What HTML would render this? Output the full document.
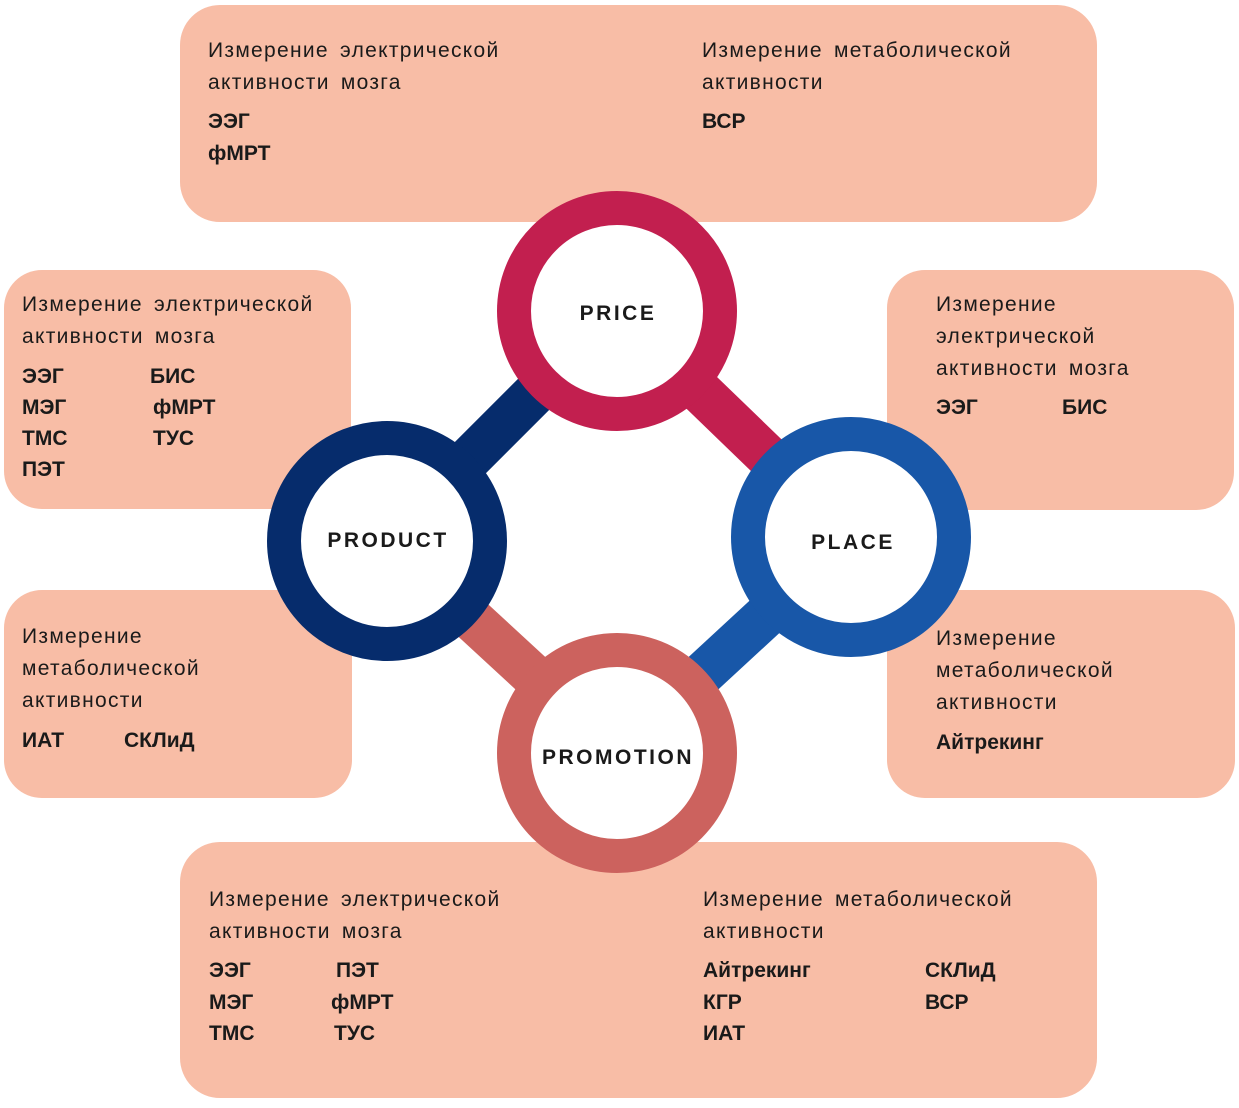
<!DOCTYPE html>
<html><head><meta charset="utf-8"><style>
html,body{margin:0;padding:0;background:#fff}
svg text{font-family:"Liberation Sans","DejaVu Sans",sans-serif;fill:#1a1a1a}
.n{font-size:21px;word-spacing:4px;letter-spacing:1.3px}
.b{font-size:21px;font-weight:bold}
.c{font-size:21px;font-weight:bold;letter-spacing:2.5px}
</style></head><body>
<svg width="1239" height="1103" viewBox="0 0 1239 1103" xmlns="http://www.w3.org/2000/svg">
<g fill="#F8BDA6">
<rect x="180" y="5" width="917" height="217" rx="40"/>
<rect x="4" y="270" width="347" height="239" rx="38"/>
<rect x="4" y="590" width="348" height="208" rx="38"/>
<rect x="887" y="270" width="347" height="240" rx="38"/>
<rect x="887" y="590" width="348" height="208" rx="38"/>
<rect x="180" y="842" width="917" height="256" rx="40"/>
</g>
<g stroke-width="44">
<line x1="387" y1="541" x2="617" y2="311" stroke="#062C6C"/>
<line x1="617" y1="311" x2="851" y2="537" stroke="#C21F4F"/>
<line x1="851" y1="537" x2="617" y2="753" stroke="#1857A8"/>
<line x1="387" y1="541" x2="617" y2="753" stroke="#CC625E"/>
</g>
<g fill="#fff" stroke-width="34">
<circle cx="617" cy="311" r="103" stroke="#C21F4F"/>
<circle cx="387" cy="541" r="103" stroke="#062C6C"/>
<circle cx="851" cy="537" r="103" stroke="#1857A8"/>
<circle cx="617" cy="753" r="103" stroke="#CC625E"/>
</g>
<g text-anchor="middle" class="c">
<text x="618" y="320" class="c">PRICE</text>
<text x="388" y="547" class="c">PRODUCT</text>
<text x="853" y="549" class="c">PLACE</text>
<text x="618" y="764" class="c">PROMOTION</text>
</g>
<text class="n" x="208" y="57">Измерение электрической</text>
<text class="n" x="208" y="89">активности мозга</text>
<text class="b" x="208" y="128">ЭЭГ</text>
<text class="b" x="208" y="160">фМРТ</text>
<text class="n" x="702" y="57">Измерение метаболической</text>
<text class="n" x="702" y="89">активности</text>
<text class="b" x="702" y="128">ВСР</text>

<text class="n" x="22" y="311">Измерение электрической</text>
<text class="n" x="22" y="343">активности мозга</text>
<text class="b" x="22" y="383">ЭЭГ</text><text class="b" x="150" y="383">БИС</text>
<text class="b" x="22" y="414">МЭГ</text><text class="b" x="153" y="414">фМРТ</text>
<text class="b" x="22" y="445">ТМС</text><text class="b" x="153" y="445">ТУС</text>
<text class="b" x="22" y="476">ПЭТ</text>

<text class="n" x="22" y="643">Измерение</text>
<text class="n" x="22" y="675">метаболической</text>
<text class="n" x="22" y="707">активности</text>
<text class="b" x="22" y="747">ИАТ</text><text class="b" x="124" y="747">СКЛиД</text>

<text class="n" x="936" y="311">Измерение</text>
<text class="n" x="936" y="343">электрической</text>
<text class="n" x="936" y="375">активности мозга</text>
<text class="b" x="936" y="414">ЭЭГ</text><text class="b" x="1062" y="414">БИС</text>

<text class="n" x="936" y="645">Измерение</text>
<text class="n" x="936" y="677">метаболической</text>
<text class="n" x="936" y="709">активности</text>
<text class="b" x="936" y="749">Айтрекинг</text>

<text class="n" x="209" y="906">Измерение электрической</text>
<text class="n" x="209" y="938">активности мозга</text>
<text class="b" x="209" y="977">ЭЭГ</text><text class="b" x="336" y="977">ПЭТ</text>
<text class="b" x="209" y="1009">МЭГ</text><text class="b" x="331" y="1009">фМРТ</text>
<text class="b" x="209" y="1040">ТМС</text><text class="b" x="334" y="1040">ТУС</text>
<text class="n" x="703" y="906">Измерение метаболической</text>
<text class="n" x="703" y="938">активности</text>
<text class="b" x="703" y="977">Айтрекинг</text><text class="b" x="925" y="977">СКЛиД</text>
<text class="b" x="703" y="1009">КГР</text><text class="b" x="925" y="1009">ВСР</text>
<text class="b" x="703" y="1040">ИАТ</text>
</svg>
</body></html>
